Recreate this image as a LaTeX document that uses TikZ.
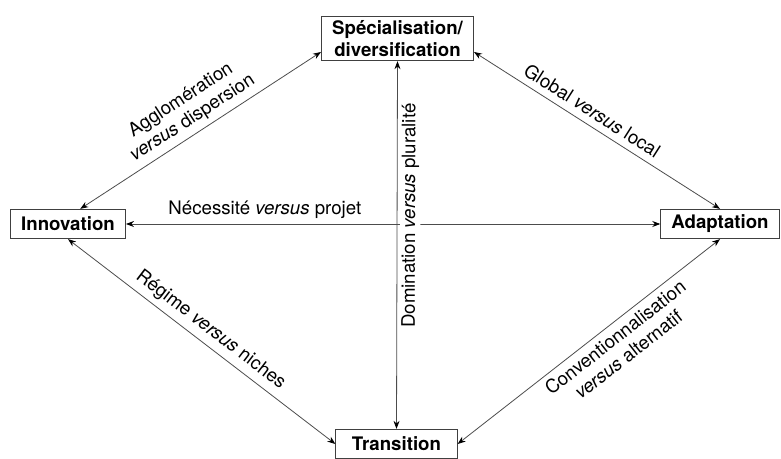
\documentclass[tikz,border=0pt]{standalone}
\usepackage{fontspec}
\setmainfont{TeX Gyre Heros}
\usetikzlibrary{arrows.meta}
\tikzset{
  pole/.style={draw=black!75, line width=0.7pt, fill=white, align=center,
    font=\fontsize{14}{16}\selectfont\bfseries, inner xsep=8pt, minimum height=22pt},
  link/.style={draw=black!70, line width=0.6pt,
    {Stealth[length=6pt,width=4.5pt,color=black]}-{Stealth[length=6pt,width=4.5pt,color=black]}},
  tag/.style={font=\fontsize{14}{16}\selectfont, align=center, sloped, inner sep=1pt},
}
\begin{document}
\begin{tikzpicture}[x=0.75pt,y=-0.75pt]
\useasboundingbox (0,0) rectangle (781,459);
% the four poles
\node[pole] (spec) at (397.5,38.5) {Spécialisation/\\diversification};
\node[pole] (innov) at (68,224) {Innovation};
\node[pole, minimum width=91pt] (trans) at (396.5,444) {Transition};
\node[pole] (adapt) at (720,224) {Adaptation};

% axes
\draw[link] (innov.east) -- node[tag, above=3pt, pos=0.26] {Nécessité \textit{versus} projet} (adapt.west);
\draw[link] (trans.north) -- node[tag, below=2pt, pos=0.58, fill=white] {Domination \textit{versus} pluralité} (spec.south);

% diagonals
\draw[link] (innov.51) -- node[tag, above=3pt] {Agglomération\\\textit{versus} dispersion} (spec.190);
\draw[link] (spec.350) -- node[tag, above=4pt, pos=0.45] {Global \textit{versus} local} (adapt.north);
\draw[link] (innov.south) -- node[tag, above=3pt] {Régime \textit{versus} niches} (trans.west);
\draw[link] (trans.east) -- node[tag, below=3pt, pos=0.57] {Conventionnalisation\\\textit{versus} alternatif} (adapt.south);
\end{tikzpicture}
\end{document}
